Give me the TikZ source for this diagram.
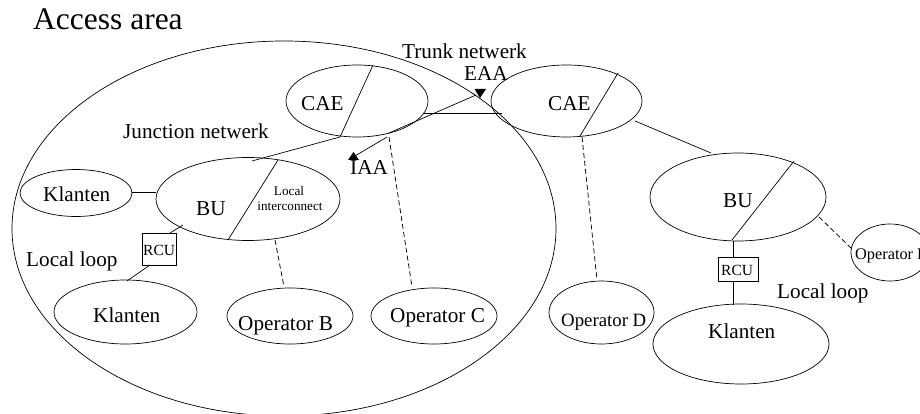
\documentclass[tikz,border=0pt]{standalone}
\usepackage{fontspec}
\setmainfont{Liberation Serif}
\tikzset{
  oval/.style={draw,line width=0.7pt},
  lnk/.style={draw,line width=0.7pt},
  dsh/.style={draw,line width=0.75pt,dash pattern=on 5pt off 3pt},
  lab/.style={inner sep=0pt,anchor=base west,font=\fontsize{21.2}{24}\selectfont},
  labmid/.style={lab,font=\fontsize{18.8}{20}\selectfont},
  rcubox/.style={draw,line width=0.6pt,inner sep=0pt},
  rcutxt/.style={lab,font=\fontsize{15.5}{16}\selectfont}
}
\begin{document}
\begin{tikzpicture}[x=1pt,y=-1pt]
\useasboundingbox (0,0) rectangle (920,414);
\begin{scope}
\clip (0,0) rectangle (920,414);
\draw[oval] (284,228.5) ellipse [x radius=272,y radius=187.5];
\draw[oval] (357,101) ellipse [x radius=71,y radius=36];
\draw[oval] (566.5,101) ellipse [x radius=75.5,y radius=36];
\draw[oval] (248,199) ellipse [x radius=92,y radius=41.5];
\draw[oval] (76,193) ellipse [x radius=56,y radius=23.5];
\draw[oval] (125.5,312) ellipse [x radius=71.5,y radius=32];
\draw[oval] (290,316) ellipse [x radius=63,y radius=28];
\draw[oval] (434,316) ellipse [x radius=63,y radius=28];
\draw[oval] (601.5,312.5) ellipse [x radius=52.5,y radius=31.5];
\draw[oval] (738,197) ellipse [x radius=88,y radius=44];
\draw[oval] (741,344) ellipse [x radius=88,y radius=40];
\draw[oval] (890,252.5) ellipse [x radius=39,y radius=28.5];
\end{scope}
\coordinate (c1a) at (373,65); \coordinate (c1b) at (340,137);
\coordinate (c2a) at (618,73); \coordinate (c2b) at (580,136);
\coordinate (b1a) at (278,160); \coordinate (b1b) at (228,240);
\coordinate (b2a) at (794,161); \coordinate (b2b) at (732,240);
\draw[lnk] (c1a)--(c1b); \draw[lnk] (c2a)--(c2b); \draw[lnk] (b1a)--(b1b); \draw[lnk] (b2a)--(b2b);
\coordinate (j1) at (252,161);
\draw[lnk] (j1)--(c1b);
\coordinate (t1) at (423,113); \coordinate (t2) at (502,113);
\draw[lnk] (t1)--(t2);
\coordinate (t3) at (635,121); \coordinate (t4) at (711,153);
\draw[lnk] (t3)--(t4);
\coordinate (k1) at (132,192); \coordinate (k2) at (156,192);
\draw[lnk] (k1)--(k2);
\node[rcubox,minimum width=34pt,minimum height=32pt] (rcu1) at (159,249) {};
\node[rcubox,minimum width=40pt,minimum height=24pt] (rcu2) at (738,269) {};
\coordinate (r1) at (183,225); \coordinate (r2) at (170,233);
\draw[lnk] (r1)--(r2);
\coordinate (r3) at (150,265); \coordinate (r4) at (127,281);
\draw[lnk] (r3)--(r4);
\coordinate (r5) at (733,241); \coordinate (r6) at (733,257);
\coordinate (r7) at (733,281); \coordinate (r8) at (733,305);
\draw[lnk] (r5)--(r6); \draw[lnk] (r7)--(r8);
\coordinate (d1) at (275,240); \coordinate (d2) at (284,287);
\draw[dsh] (d1)--(d2);
\coordinate (d3) at (389,137); \coordinate (d4) at (412,287);
\draw[dsh] (d3)--(d4);
\coordinate (d5) at (582,137); \coordinate (d6) at (597,280);
\draw[dsh] (d5)--(d6);
\coordinate (d7) at (819,217); \coordinate (d8) at (851,248);
\draw[dsh] (d7)--(d8);
\coordinate (a0) at (389,133); \coordinate (a1) at (476,95);
\draw[lnk] (a0)--(a1);
\coordinate (a2) at (387,137); \coordinate (a3) at (355,156);
\draw[lnk] (a2)--(a3);
\fill (474.5,89) -- (486,89) -- (480,98) -- cycle;
\fill (348,160) -- (359,160) -- (353.5,152) -- cycle;
\node[lab,font=\fontsize{31.5}{34}\selectfont] (acc) at (33,30) {Access area};
\node[lab] (tn) at (402,59) {Trunk netwerk};
\node[lab] (eaa) at (464,81) {EAA};
\node[lab] (iaa) at (350,175) {IAA};
\node[lab] (jn) at (123,139) {Junction netwerk};
\node[lab] (cae1) at (301,111) {CAE};
\node[lab] (cae2) at (548,111) {CAE};
\node[lab] (kl1) at (43,201) {Klanten};
\node[lab] (kl2) at (93,322) {Klanten};
\node[lab] (bu1) at (196,215) {BU};
\node[lab] (bu2) at (723,207) {BU};
\node[lab] (kl3) at (708,338) {Klanten};
\node[lab] (ll1) at (26,266) {Local loop};
\node[lab] (ll2) at (777,298) {Local loop};
\node[lab] (ob) at (238,330) {Operator B};
\node[lab] (oc) at (390,322) {Operator C};
\node[labmid] (od) at (561,326) {Operator D};
\node[lab,font=\fontsize{16.3}{18}\selectfont] (oe) at (855,259) {Operator E};
\node[rcutxt] (rt1) at (143,255) {RCU};
\node[rcutxt] (rt2) at (721,275) {RCU};
\node[lab,font=\fontsize{13.2}{16}\selectfont,anchor=base] (li1) at (289,195) {Local};
\node[lab,font=\fontsize{13.2}{16}\selectfont,anchor=base] (li2) at (290,211) {interconnect};
\end{tikzpicture}
\end{document}
